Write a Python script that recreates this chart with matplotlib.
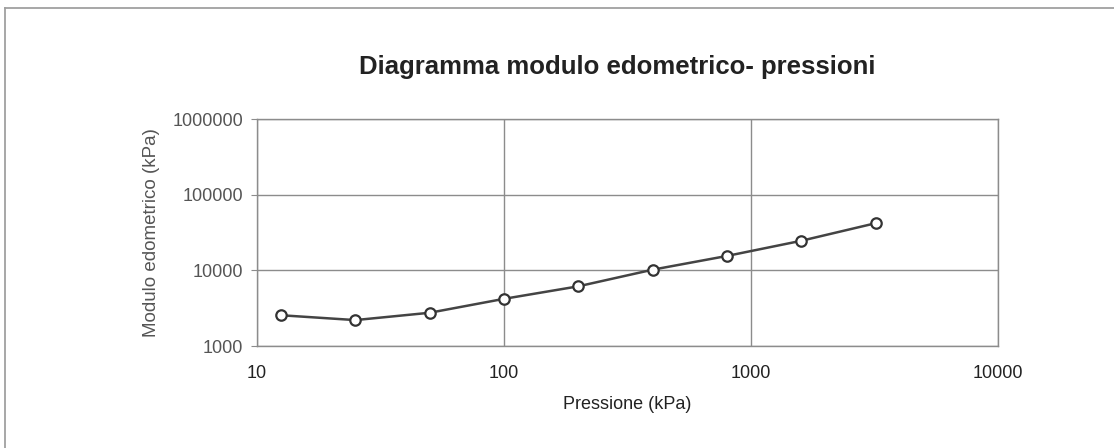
import matplotlib
matplotlib.use("Agg")
import matplotlib.pyplot as plt
from matplotlib.lines import Line2D
from matplotlib.ticker import FixedLocator, FixedFormatter, NullLocator

plt.rcParams['font.family'] = ['Liberation Sans', 'DejaVu Sans']

# Oedometer test: applied pressure vs. oedometric modulus
pressione_kpa = [12.5, 25, 50, 100, 200, 400, 800, 1600, 3200]
modulo_kpa = [2550, 2200, 2750, 4200, 6150, 10200, 15500, 24600, 42000]

x_ticks = [10, 100, 1000, 10000]
x_labels = ["10", "100", "1000", "10000"]
y_ticks = [1000, 10000, 100000, 1000000]
y_labels = ["1000", "10000", "100000", "1000000"]

W, H = 1114, 448
fig = plt.figure(figsize=(W / 100, H / 100), dpi=100)
fig.patch.set_facecolor("white")

# chart frame: top and left edges
frame_kw = dict(transform=fig.transFigure, color="#a0a0a0", linewidth=1.3)
fig.add_artist(Line2D([5 / W, 1.0], [1 - 8 / H, 1 - 8 / H], **frame_kw))
fig.add_artist(Line2D([5 / W, 5 / W], [0.0, 1 - 8 / H], **frame_kw))

ax = fig.add_axes([257 / W, 1 - 346 / H, (998 - 257) / W, (346 - 119) / H])
ax.set_xscale("log")
ax.set_yscale("log")
ax.set_xlim(10, 10000)
ax.set_ylim(1000, 1000000)

ax.xaxis.set_major_locator(FixedLocator(x_ticks))
ax.xaxis.set_major_formatter(FixedFormatter(x_labels))
ax.yaxis.set_major_locator(FixedLocator(y_ticks))
ax.yaxis.set_major_formatter(FixedFormatter(y_labels))
ax.xaxis.set_minor_locator(NullLocator())
ax.yaxis.set_minor_locator(NullLocator())

ax.grid(True, which="major", color="#8c8c8c", linewidth=1.0)
for s in ax.spines.values():
    s.set_color("#8c8c8c")
    s.set_linewidth(1.0)
ax.tick_params(axis="x", length=0, pad=14, labelsize=13, labelcolor="#222222")
ax.tick_params(axis="y", direction="out", length=4, color="#8c8c8c", pad=6,
               labelsize=13, labelcolor="#555555")

ax.plot(pressione_kpa, modulo_kpa, color="#444444", linewidth=1.8,
        marker="o", markersize=7.5, markerfacecolor="white",
        markeredgecolor="#333333", markeredgewidth=1.6, zorder=3)

ax.set_xlabel("Pressione (kPa)", fontsize=13, color="#222222", labelpad=10)
ax.set_ylabel("Modulo edometrico (kPa)", fontsize=13.5, color="#555555", labelpad=9)

fig.text(617 / W, 1 - 67 / H, "Diagramma modulo edometrico- pressioni",
         ha="center", va="center", fontsize=18.5, fontweight="bold", color="#222222")

fig.savefig("out.png", dpi=100)
